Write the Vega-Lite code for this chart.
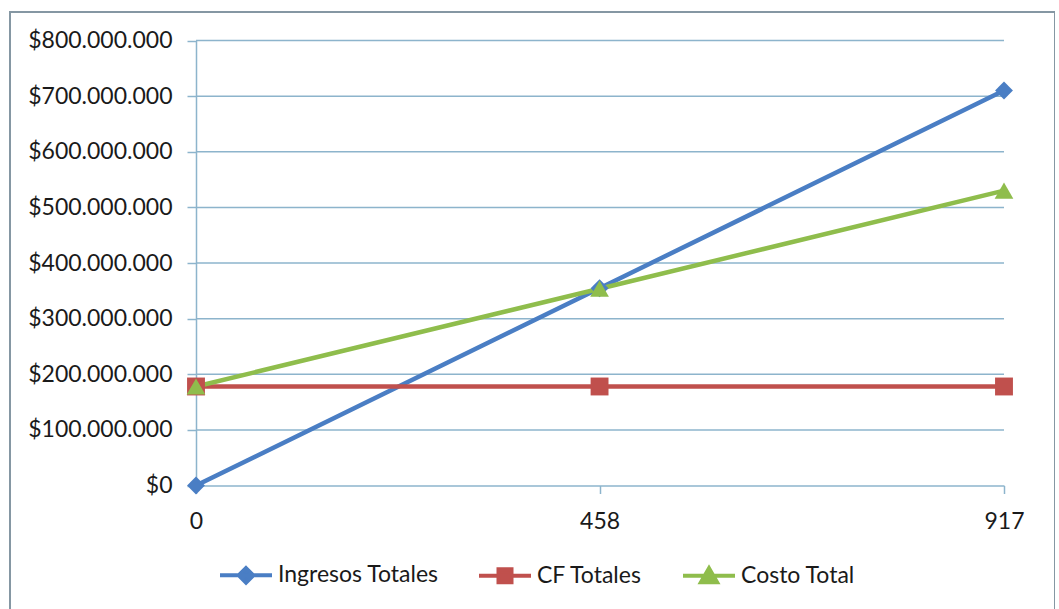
{
  "$schema": "https://vega.github.io/schema/vega-lite/v6.json",
  "width": 1045,
  "height": 600,
  "padding": {"left": 10, "top": 12, "right": 0, "bottom": 0},
  "autosize": {"type": "none"},
  "background": "white",
  "config": {
    "locale": {"number": {"decimal": ",", "thousands": ".", "grouping": [3], "currency": ["$", ""]}},
    "view": {"stroke": "#8597a3", "strokeWidth": 2},
    "font": "Lato",
    "axis": {
      "labelFont": "Lato",
      "labelFontSize": 23,
      "labelColor": "#1a1a1a",
      "domainColor": "#8db4cc",
      "domainWidth": 1.5,
      "tickColor": "#8db4cc",
      "tickWidth": 1.5,
      "grid": false,
      "title": null
    }
  },
  "datasets": {
    "series": [
      {"unidades": 0, "serie": "Ingresos Totales", "valor": 0},
      {"unidades": 458, "serie": "Ingresos Totales", "valor": 354600000},
      {"unidades": 917, "serie": "Ingresos Totales", "valor": 710000000},
      {"unidades": 0, "serie": "CF Totales", "valor": 178000000},
      {"unidades": 458, "serie": "CF Totales", "valor": 178000000},
      {"unidades": 917, "serie": "CF Totales", "valor": 178000000},
      {"unidades": 0, "serie": "Costo Total", "valor": 178000000},
      {"unidades": 458, "serie": "Costo Total", "valor": 353800000},
      {"unidades": 917, "serie": "Costo Total", "valor": 530000000}
    ],
    "grid": [
      {"v": 100000000}, {"v": 200000000}, {"v": 300000000}, {"v": 400000000},
      {"v": 500000000}, {"v": 600000000}, {"v": 700000000}, {"v": 800000000}
    ]
  },
  "layer": [
    {
      "data": {"name": "grid"},
      "mark": {"type": "rule", "color": "#8db4cc", "strokeWidth": 1.5},
      "encoding": {
        "y": {"field": "v", "type": "quantitative", "scale": {"domain": [0, 800000000], "range": [473.5, 28.5], "nice": false, "zero": false}},
        "x": {"datum": 0, "type": "quantitative", "scale": {"domain": [0, 917], "range": [186, 994], "nice": false, "zero": false}},
        "x2": {"datum": 917}
      }
    },
    {
      "data": {"name": "series"},
      "mark": {"type": "line", "strokeWidth": 4.5},
      "encoding": {
        "x": {
          "field": "unidades", "type": "quantitative",
          "scale": {"domain": [0, 917], "range": [186, 994], "nice": false, "zero": false},
          "axis": {"orient": "bottom", "offset": -126.5, "values": [0, 458, 917], "tickSize": 8, "labelPadding": 17, "labelFlush": false, "labelOverlap": false, "labelBound": false}
        },
        "y": {
          "field": "valor", "type": "quantitative",
          "scale": {"domain": [0, 800000000], "range": [473.5, 28.5], "nice": false, "zero": false},
          "axis": {"orient": "left", "offset": -186, "values": [0, 100000000, 200000000, 300000000, 400000000, 500000000, 600000000, 700000000, 800000000], "format": "$,.0f", "tickSize": 9, "labelPadding": 15, "labelOverlap": false}
        },
        "color": {
          "field": "serie", "type": "nominal",
          "scale": {"domain": ["Ingresos Totales", "CF Totales", "Costo Total"], "range": ["#4a7ec4", "#c0504d", "#8fbd4c"]},
          "legend": {
            "orient": "none", "legendX": 208, "legendY": 535, "direction": "horizontal", "title": null,
            "columnPadding": 32, "labelOffset": 4, "symbolSize": 2704, "symbolStrokeWidth": 4,
            "labelFontSize": 23, "labelFont": "Lato", "labelColor": "#1a1a1a", "labelLimit": 400, "padding": 0,
            "encode": {
              "symbols": {
                "update": {
                  "shape": {"signal": "datum.value === 'Ingresos Totales' ? 'M-1,0L1,0M0,-0.28L0.28,0L0,0.28L-0.28,0Z' : datum.value === 'CF Totales' ? 'M-1,0L1,0M-0.25,-0.25L0.25,-0.25L0.25,0.25L-0.25,0.25Z' : 'M-1,0L1,0M0,-0.29L0.31,0.25L-0.31,0.25Z'"},
                  "fill": {"scale": "color", "field": "value"},
                  "stroke": {"scale": "color", "field": "value"},
                  "strokeWidth": {"value": 4},
                  "opacity": {"value": 1}
                }
              }
            }
          }
        }
      }
    },
    {
      "data": {"name": "series"},
      "transform": [{"filter": "datum.serie === 'Ingresos Totales'"}],
      "mark": {"type": "point", "shape": "diamond", "filled": true, "opacity": 1, "size": 320},
      "encoding": {
        "x": {"field": "unidades", "type": "quantitative"},
        "y": {"field": "valor", "type": "quantitative"},
        "color": {"field": "serie", "type": "nominal", "legend": null}
      }
    },
    {
      "data": {"name": "series"},
      "transform": [{"filter": "datum.serie === 'CF Totales'"}],
      "mark": {"type": "point", "shape": "square", "filled": true, "opacity": 1, "size": 320},
      "encoding": {
        "x": {"field": "unidades", "type": "quantitative"},
        "y": {"field": "valor", "type": "quantitative"},
        "color": {"field": "serie", "type": "nominal", "legend": null}
      }
    },
    {
      "data": {"name": "series"},
      "transform": [{"filter": "datum.serie === 'Costo Total'"}],
      "mark": {"type": "point", "shape": "triangle-up", "filled": true, "opacity": 1, "size": 350},
      "encoding": {
        "x": {"field": "unidades", "type": "quantitative"},
        "y": {"field": "valor", "type": "quantitative"},
        "color": {"field": "serie", "type": "nominal", "legend": null}
      }
    }
  ]
}
